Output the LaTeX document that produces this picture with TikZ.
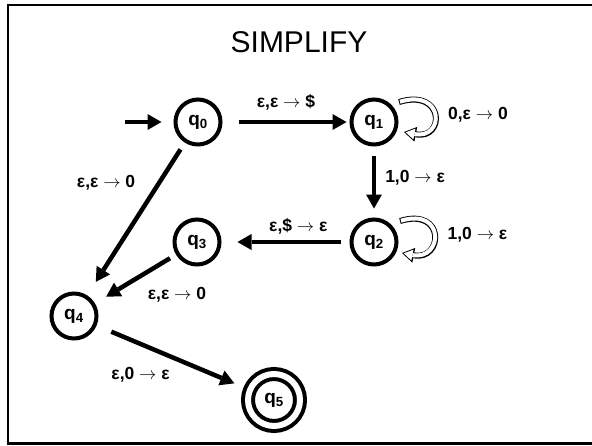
\documentclass[tikz,border=0pt]{standalone}
\usepackage{fontspec}
\setmainfont{Liberation Sans}
\usetikzlibrary{arrows.meta,positioning}

\tikzset{
  state/.style={draw, circle, line width=4pt, minimum size=45pt, inner sep=0pt,
    font=\fontsize{19}{19}\selectfont\bfseries},
  accepting/.style={state, double, double distance=6pt, line width=4pt, minimum size=52pt},
  edge/.style={line width=4.5pt, -{Triangle[length=14pt,width=16pt,line width=0pt]},
    shorten <=8pt, shorten >=8pt},
  lbl/.style={font=\fontsize{17.5}{18}\selectfont\bfseries, inner sep=2pt},
  % hollow loop arrows: black body first, white inside on top
  loopout/.style={line width=6pt, -{Triangle[length=12pt,width=15pt,line width=0pt]}},
  loopin/.style={white, line width=4pt, shorten <=1pt, shorten >=1.8pt,
    -{Triangle[length=8.8pt,width=11pt,line width=0pt]}},
}

\begin{document}
\begin{tikzpicture}[x=1pt, y=-1pt]
  \useasboundingbox (0,0) rectangle (592,445);
  \draw[line width=2.5pt] (592,5) -- (8,5) -- (8,443.7) -- (592,443.7);

  \node[font=\fontsize{30}{30}\selectfont] (title) at (299,42) {SIMPLIFY};

  % states
  \node[state] (q0) at (198,122) {q\textsubscript{0}};
  \node[state] (q1) at (374,122) {q\textsubscript{1}};
  \node[state] (q2) at (374,242) {q\textsubscript{2}};
  \node[state] (q3) at (197,242) {q\textsubscript{3}};
  \node[state] (q4) at (74,316) {q\textsubscript{4}};
  \node[accepting] (q5) at (274,400) {q\textsubscript{5}};

  \coordinate (start) at (125,122);

  % transitions
  \draw[edge, shorten <=0pt, shorten >=12pt] (start) -- (q0);
  \draw[edge, shorten <=16pt, shorten >=3pt] (q0) -- node[lbl, above=8pt] {ε,ε $\rightarrow$ \$} (q1);
  \draw[edge, shorten <=9pt, shorten >=9pt] (q1) -- node[lbl, right=7pt, yshift=4pt] {1,0 $\rightarrow$ ε} (q2);
  \draw[edge, shorten <=9pt, shorten >=16pt] (q2) -- node[lbl, pos=0.4, above=4pt] {ε,\$ $\rightarrow$ ε} (q3);
  \draw[edge, shorten <=8pt, shorten >=16pt] (q0) -- node[lbl, pos=0.26, left=20pt] {ε,ε $\rightarrow$ 0} (q4);
  \draw[edge, shorten <=7pt, shorten >=13pt] (q3) -- node[lbl, pos=0, below=28pt, xshift=1pt] {ε,ε $\rightarrow$ 0} (q4);
  \draw[edge, shorten <=16pt, shorten >=15pt] (q4) -- node[lbl, pos=0.29, below=19pt] {ε,0 $\rightarrow$ ε} (q5);

  % self loops
  \draw[loopout] ([shift={(25,-20)}]q1.center) .. controls +(46,-14) and +(41,8) ..
    node[lbl, pos=0.5, right=9pt] {0,ε $\rightarrow$ 0} ([shift={(30,10)}]q1.center);
  \draw[loopin] ([shift={(25,-20)}]q1.center) .. controls +(46,-14) and +(41,8) .. ([shift={(30,10)}]q1.center);
  \draw[loopout] ([shift={(26,-21)}]q2.center) .. controls +(46,-14) and +(41,8) ..
    node[lbl, pos=0.5, right=9pt] {1,0 $\rightarrow$ ε} ([shift={(28,11)}]q2.center);
  \draw[loopin] ([shift={(26,-21)}]q2.center) .. controls +(46,-14) and +(41,8) .. ([shift={(28,11)}]q2.center);
\end{tikzpicture}
\end{document}
